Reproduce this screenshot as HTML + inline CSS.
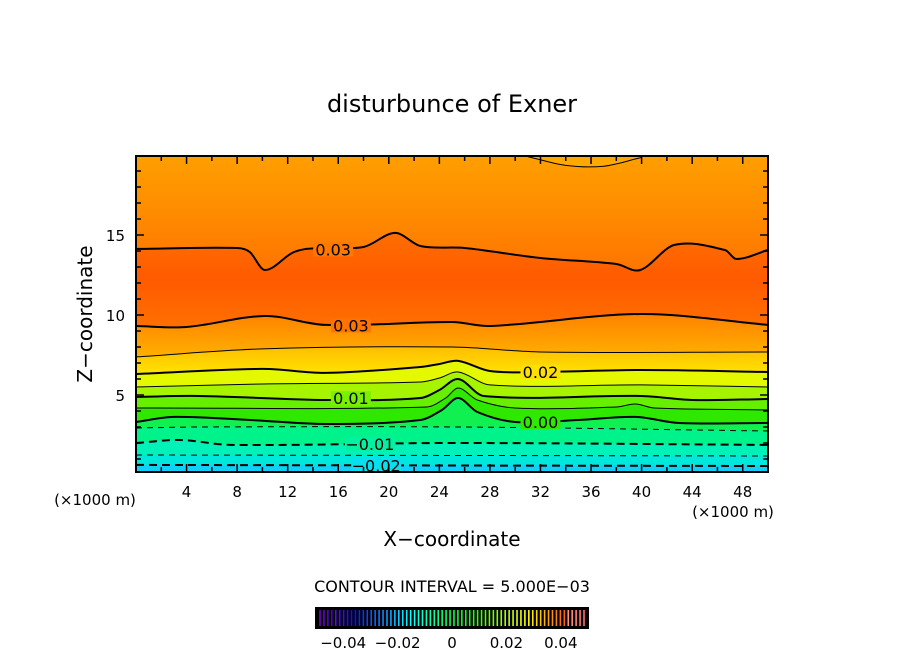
<!DOCTYPE html>
<html><head><meta charset="utf-8">
<style>
body{margin:0;background:#fff;}
svg{display:block;font-family:"DejaVu Sans","Liberation Sans",sans-serif;}
</style></head>
<body>
<svg id="chart" width="904" height="654" viewBox="0 0 904 654">
<defs>
<linearGradient id="gTop" x1="0" y1="1" x2="0" y2="0">
<stop offset="0" stop-color="#ff7400"/><stop offset="0.45" stop-color="#ff8c00"/><stop offset="1" stop-color="#ffa400"/></linearGradient>
<linearGradient id="gMid" x1="0" y1="0" x2="0" y2="1">
<stop offset="0" stop-color="#ff6e00"/><stop offset="0.5" stop-color="#ff5a00"/><stop offset="1" stop-color="#ff7000"/></linearGradient>
<linearGradient id="gLow" x1="0" y1="0" x2="0" y2="1">
<stop offset="0" stop-color="#ff8200"/><stop offset="1" stop-color="#ffb000"/></linearGradient>
<linearGradient id="g020" x1="0" y1="0" x2="0" y2="1">
<stop offset="0" stop-color="#ffbc00"/><stop offset="1" stop-color="#ffe400"/></linearGradient>
<clipPath id="plotClip"><rect x="136" y="156" width="632" height="316"/></clipPath>
</defs>
<text x="452" y="112" font-size="24" text-anchor="middle">disturbunce of Exner</text>
<g id="fills" clip-path="url(#plotClip)"></g>
<g id="lines" clip-path="url(#plotClip)"></g>
<g id="labels"></g>
<rect x="136" y="156" width="632" height="316" fill="none" stroke="#000" stroke-width="2"/>
<g id="ticks"></g>
<text x="95" y="505" font-size="15" text-anchor="middle">(×1000 m)</text>
<text x="733" y="517" font-size="15" text-anchor="middle">(×1000 m)</text>
<text x="452" y="546" font-size="20" text-anchor="middle">X−coordinate</text>
<text x="92" y="314" font-size="20" text-anchor="middle" transform="rotate(-90 92 314)">Z−coordinate</text>
<text x="452" y="592" font-size="16" text-anchor="middle">CONTOUR INTERVAL = 5.000E−03</text>
<g id="cbar"></g>
</svg>
<script>
// contour level data (x in km, z in km)
const upper03X=[0,8,9,10.2,12.5,14.5,18,20.5,22.5,26,32,38,39.9,42.6,46.6,47.5,50];
const upper03Z=[14.13,14.19,13.94,12.81,13.94,14.19,14.25,15.13,14.31,14.19,13.56,13.19,12.81,14.38,14.06,13.5,14.06];
const lower03X=[0,4,10.2,15,25,28,40,50];
const lower03Z=[9.31,9.25,9.94,9.38,9.56,9.31,10.06,9.38];
const l025X=[0,10,25,32,50];
const l025Z=[7.38,7.88,8.0,7.69,7.69];
const l020X=[0,10,15,22.5,24,25.5,28,32,40,50];
const l020Z=[6.31,6.63,6.38,6.75,6.94,7.13,6.5,6.44,6.56,6.44];
const l015X=[0,10,22.5,24,25.5,28,40,50];
const l015Z=[5.5,5.69,5.81,6.06,6.44,5.63,5.63,5.5];
const l010X=[0,5,15,22.5,24,25.5,27.5,40,44,50];
const l010Z=[4.88,4.94,4.69,4.81,5.31,6.0,4.94,4.94,4.69,4.75];
const l005X=[0,23,24.5,25.5,27,30,38,39.5,41,50];
const l005Z=[4.19,4.25,4.81,5.44,4.69,4.19,4.25,4.44,4.19,4.06];
const l000X=[0,3,9,15,22.5,24.2,25.5,27,30,35,39.5,43,50];
const l000Z=[3.31,3.63,3.44,3.19,3.44,4.06,4.81,3.94,3.31,3.44,3.63,3.25,3.25];
const lm005X=[0,5,25.5,50];
const lm005Z=[2.94,3.0,3.0,2.75];
const lm010X=[0,3.5,7.5,25,50];
const lm010Z=[2.0,2.19,1.88,2.0,1.88];
const lm015X=[0,50];
const lm015Z=[1.25,1.19];
const lm020X=[0,50];
const lm020Z=[0.63,0.56];
const topArcX=[31,34,37,40];
const topArcZ=[19.9,19.35,19.3,19.85];
const xTicks=[4,8,12,16,20,24,28,32,36,40,44,48];
const yTicks=[5,10,15];
const cbarTicks=[-0.04,-0.02,0,0.02,0.04];
const cbarLabels=["−0.04","−0.02","0","0.02","0.04"];

const NS="http://www.w3.org/2000/svg";
const X0=136,X1=768,XMAX=50,ZBASE=475,ZS=16;
function sx(x){return X0+x*(X1-X0)/XMAX;}
function sz(z){return ZBASE-z*ZS;}
function P(xs,zs){return xs.map((x,i)=>[sx(x),sz(zs[i])]);}
function curve(p,start){
  // cubic Hermite along x (no loops)
  const n=p.length, m=[];
  for(let i=0;i<n;i++){
    const a=p[Math.max(0,i-1)], b=p[Math.min(n-1,i+1)];
    m.push((b[1]-a[1])/((b[0]-a[0])||1));
  }
  let d=(start?"M":"L")+p[0][0].toFixed(1)+","+p[0][1].toFixed(1);
  for(let i=0;i<n-1;i++){
    const dx=(p[i+1][0]-p[i][0])/3;
    const c1=[p[i][0]+dx,p[i][1]+m[i]*dx];
    const c2=[p[i+1][0]-dx,p[i+1][1]-m[i+1]*dx];
    d+="C"+c1[0].toFixed(1)+","+c1[1].toFixed(1)+" "+c2[0].toFixed(1)+","+c2[1].toFixed(1)+" "+p[i+1][0].toFixed(1)+","+p[i+1][1].toFixed(1);
  }
  return d;
}
function lineD(xs,zs){return curve(P(xs,zs),true);}
function bandD(ax,az,bx,bz){
  const b=P(bx,bz).reverse();
  return curve(P(ax,az),true)+curve(b,false)+"Z";
}
const fills=document.getElementById('fills');
const lines=document.getElementById('lines');
function addFill(d,color,name){
  const p=document.createElementNS(NS,'path');
  p.setAttribute('d',d);p.setAttribute('fill',color);p.setAttribute('stroke',color);p.setAttribute('stroke-width','0.6');
  
  
  fills.appendChild(p);
}
const TOPX=[0,50],TOPZ=[21,21],BOTX=[0,50],BOTZ=[-1,-1];
addFill(bandD(TOPX,TOPZ,upper03X,upper03Z),'url(#gTop)','band-upper');
addFill(bandD(upper03X,upper03Z,lower03X,lower03Z),'url(#gMid)','band-core');
addFill(bandD(lower03X,lower03Z,l025X,l025Z),'url(#gLow)','band-025-030');
addFill(bandD(l025X,l025Z,l020X,l020Z),'url(#g020)','band-020-025');
addFill(bandD(l020X,l020Z,l015X,l015Z),'#e4f800','band-015-020');
addFill(bandD(l015X,l015Z,l010X,l010Z),'#a6f400','band-010-015');
addFill(bandD(l010X,l010Z,l005X,l005Z),'#66f000','band-005-010');
addFill(bandD(l005X,l005Z,l000X,l000Z),'#2ee800','band-000-005');
addFill(bandD(l000X,l000Z,lm005X,lm005Z),'#10f050','band-m005-000');
addFill(bandD(lm005X,lm005Z,lm010X,lm010Z),'#00f28a','band-m010-m005');
addFill(bandD(lm010X,lm010Z,lm015X,lm015Z),'#00f2b8','band-m015-m010');
addFill(bandD(lm015X,lm015Z,lm020X,lm020Z),'#00e8dc','band-m020-m015');
addFill(bandD(lm020X,lm020Z,BOTX,BOTZ),'#10d0f8','band-below-m020');
addFill(bandD(topArcX,topArcZ,[40,31],[21,21]),'#ffa800','band-top-arc');

function addLine(xs,zs,w,dash,name){
  const p=document.createElementNS(NS,'path');
  p.setAttribute('d',lineD(xs,zs));p.setAttribute('fill','none');p.setAttribute('stroke','#000');
  p.setAttribute('stroke-width',w);if(dash)p.setAttribute('stroke-dasharray',dash);
  
  
  lines.appendChild(p);
}
addLine(topArcX,topArcZ,1,null,'contour-top-arc');
addLine(upper03X,upper03Z,2,null,'contour-0.03-upper');
addLine(lower03X,lower03Z,2,null,'contour-0.03-lower');
addLine(l025X,l025Z,1,null,'contour-0.025');
addLine(l020X,l020Z,2,null,'contour-0.02');
addLine(l015X,l015Z,1,null,'contour-0.015');
addLine(l010X,l010Z,2,null,'contour-0.01');
addLine(l005X,l005Z,1,null,'contour-0.005');
addLine(l000X,l000Z,2,null,'contour-0.00');
addLine(lm005X,lm005Z,1,'6,5','contour-m0.005');
addLine(lm010X,lm010Z,2,'8,5','contour-m0.01');
addLine(lm015X,lm015Z,1,'6,5','contour-m0.015');
addLine(lm020X,lm020Z,2,'8,5','contour-m0.02');

const labs=[["0.03",15.6,14.1,'#ff7800'],["0.03",17,9.35,'#ff7400'],["0.02",32,6.44,'#ffe000'],["0.01",17,4.8,'#7af000'],["0.00",32,3.31,'#30e800'],["−0.01",18.5,1.95,'#00f2a0'],["−0.02",19,0.6,'#08e0f0']];
const lg=document.getElementById('labels');
labs.forEach(l=>{
  const r=document.createElementNS(NS,'rect');
  const w=l[0].length*10;
  r.setAttribute('x',sx(l[1])-w/2);r.setAttribute('y',sz(l[2])-7);r.setAttribute('width',w);r.setAttribute('height',14);r.setAttribute('fill',l[3]);
  
  
  lg.appendChild(r);
  const t=document.createElementNS(NS,'text');
  t.setAttribute('x',sx(l[1]));t.setAttribute('y',sz(l[2])+6);t.setAttribute('font-size','16');t.setAttribute('text-anchor','middle');
  t.textContent=l[0];
  
  
  lg.appendChild(t);
});

const tg=document.getElementById('ticks');
function tl(x1,y1,x2,y2,name){
  const l=document.createElementNS(NS,'line');
  l.setAttribute('x1',x1);l.setAttribute('y1',y1);l.setAttribute('x2',x2);l.setAttribute('y2',y2);
  l.setAttribute('stroke','#000');l.setAttribute('stroke-width','1.5');
  
  
  tg.appendChild(l);
}
for(let x=2;x<50;x+=2){
  const len=(x%4===0)?8:5;
  tl(sx(x),472,sx(x),472-len,'x-tick');
  tl(sx(x),156,sx(x),156+len,'x-tick');
}
for(let z=1;z<20;z++){
  const len=(z%5===0)?8:5;
  tl(136,sz(z),136+len,sz(z),'y-tick');
  tl(768,sz(z),768-len,sz(z),'y-tick');
}
xTicks.forEach(v=>{
  const t=document.createElementNS(NS,'text');
  t.setAttribute('x',sx(v));t.setAttribute('y',497);t.setAttribute('font-size','15');t.setAttribute('text-anchor','middle');
  t.textContent=v;
  
  
  tg.appendChild(t);
});
yTicks.forEach(v=>{
  const t=document.createElementNS(NS,'text');
  t.setAttribute('x',125);t.setAttribute('y',sz(v)+6);t.setAttribute('font-size','15');t.setAttribute('text-anchor','end');
  t.textContent=v;
  
  
  tg.appendChild(t);
});

const cb=document.getElementById('cbar');
const CB0=316,CB1=588,CBY=608,CBH=20,CMIN=-0.05,CMAX=0.05;
function cx(v){return CB0+(v-CMIN)/(CMAX-CMIN)*(CB1-CB0);}
const bg=document.createElementNS(NS,'rect');
bg.setAttribute('x',CB0);bg.setAttribute('y',CBY);bg.setAttribute('width',CB1-CB0);bg.setAttribute('height',CBH);bg.setAttribute('fill','#000');bg.setAttribute('stroke','#000');bg.setAttribute('stroke-width','2');


cb.appendChild(bg);
for(let i=0;i<68;i++){
  const f=i/67;
  const hue=275-f*275;
  const light=f>0.93?72:(f<0.05?40:52);
  const l=document.createElementNS(NS,'line');
  const x=CB0+4+f*(CB1-CB0-8);
  l.setAttribute('x1',x);l.setAttribute('x2',x);l.setAttribute('y1',CBY+2);l.setAttribute('y2',CBY+CBH-2);
  l.setAttribute('stroke','hsl('+hue+',100%,'+light+'%)');l.setAttribute('stroke-width','1.6');
  
  
  cb.appendChild(l);
}
cbarTicks.forEach((v,i)=>{
  const t=document.createElementNS(NS,'text');
  t.setAttribute('x',cx(v));t.setAttribute('y',648);t.setAttribute('font-size','15');t.setAttribute('text-anchor','middle');
  t.textContent=cbarLabels[i];
  
  
  cb.appendChild(t);
});
</script>
</body></html>
